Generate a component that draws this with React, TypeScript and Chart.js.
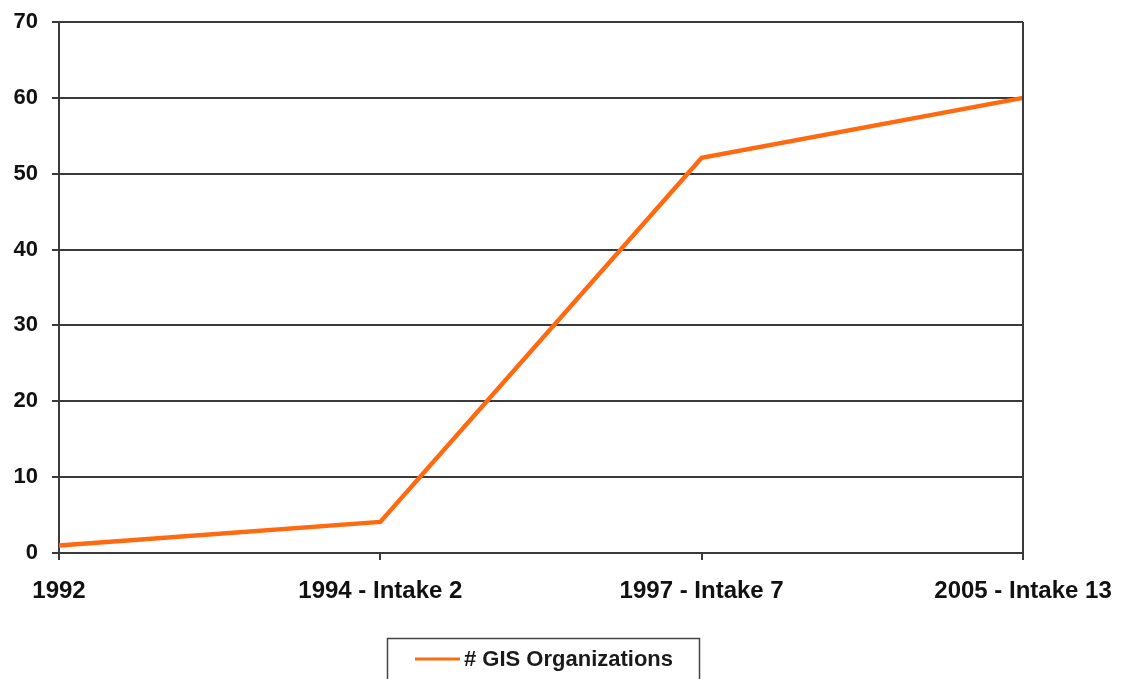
import React, { useEffect, useRef } from "react";
import { Chart, registerables } from "chart.js";

Chart.register(...registerables);

const categories = ["1992", "1994 - Intake 2", "1997 - Intake 7", "2005 - Intake 13"];
const seriesLabel = "# GIS Organizations";
const seriesValues = [1, 4.1, 52.1, 60];
const yTicks = [0, 10, 20, 30, 40, 50, 60, 70];

const LINE_COLOR = "#FF6A10";
const GRID_COLOR = "#3a3a3a";
const FONT = "'Liberation Sans', Arial, sans-serif";

const extrasPlugin = {
  id: "extras",
  afterDraw(chart: any) {
    const { ctx, chartArea } = chart;
    ctx.save();
    // right border of plot area
    ctx.strokeStyle = GRID_COLOR;
    ctx.lineWidth = 2;
    ctx.beginPath();
    ctx.moveTo(chartArea.right, chartArea.top);
    ctx.lineTo(chartArea.right, chartArea.bottom);
    ctx.stroke();

    // legend box
    const bx = 387.5;
    const by = 638.5;
    const bw = 312;
    const bh = 60;
    ctx.strokeStyle = "#444";
    ctx.lineWidth = 1.5;
    ctx.strokeRect(bx, by, bw, bh);
    ctx.strokeStyle = LINE_COLOR;
    ctx.lineWidth = 3;
    ctx.beginPath();
    ctx.moveTo(415, 659);
    ctx.lineTo(460, 659);
    ctx.stroke();
    ctx.fillStyle = "#1a1a1a";
    ctx.font = `bold 22px ${FONT}`;
    ctx.textBaseline = "middle";
    ctx.textAlign = "left";
    ctx.fillText(seriesLabel, 464, 660);
    ctx.restore();
  },
};

export default function App() {
  const canvasRef = useRef<HTMLCanvasElement | null>(null);

  useEffect(() => {
    document.body.style.margin = "0";
    const canvas = canvasRef.current;
    if (!canvas) return;
    const chart = new Chart(canvas, {
      type: "line",
      data: {
        labels: categories,
        datasets: [
          {
            label: seriesLabel,
            data: seriesValues,
            borderColor: LINE_COLOR,
            backgroundColor: LINE_COLOR,
            borderWidth: 4.5,
            pointRadius: 0,
            tension: 0,
            fill: false,
          },
        ],
      },
      options: {
        responsive: false,
        animation: false,
        layout: { padding: { top: 22, right: 100, left: 0, bottom: 0 } },
        plugins: {
          legend: { display: false },
          tooltip: { enabled: false },
          title: { display: false },
        },
        scales: {
          x: {
            type: "category",
            offset: false,
            afterFit(scale: any) {
              scale.height = 126;
              scale.paddingLeft = 0;
              scale.paddingRight = 0;
            },
            grid: {
              display: true,
              drawOnChartArea: false,
              drawTicks: true,
              tickLength: 7,
              color: GRID_COLOR,
              lineWidth: 2,
            },
            border: { display: true, color: GRID_COLOR, width: 2 },
            ticks: {
              color: "#111",
              font: { family: FONT, size: 24, weight: "bold" },
              padding: 17,
              maxRotation: 0,
              autoSkip: false,
            },
          },
          y: {
            min: 0,
            max: 70,
            afterFit(scale: any) {
              scale.width = 59;
              scale.paddingTop = 0;
              scale.paddingBottom = 0;
            },
            afterBuildTicks(scale: any) {
              scale.ticks = yTicks.map((v) => ({ value: v }));
            },
            grid: {
              display: true,
              drawTicks: true,
              tickLength: 7,
              color: GRID_COLOR,
              lineWidth: 2,
            },
            border: { display: true, color: GRID_COLOR, width: 2 },
            ticks: {
              color: "#111",
              font: { family: FONT, size: 22, weight: "bold" },
              padding: 14,
            },
          },
        },
      },
      plugins: [extrasPlugin],
    } as any);
    return () => chart.destroy();
  }, []);

  return (
    <div style={{ width: 1123, height: 679, background: "#fff" }}>
      <canvas ref={canvasRef} width={1123} height={679} />
    </div>
  );
}
